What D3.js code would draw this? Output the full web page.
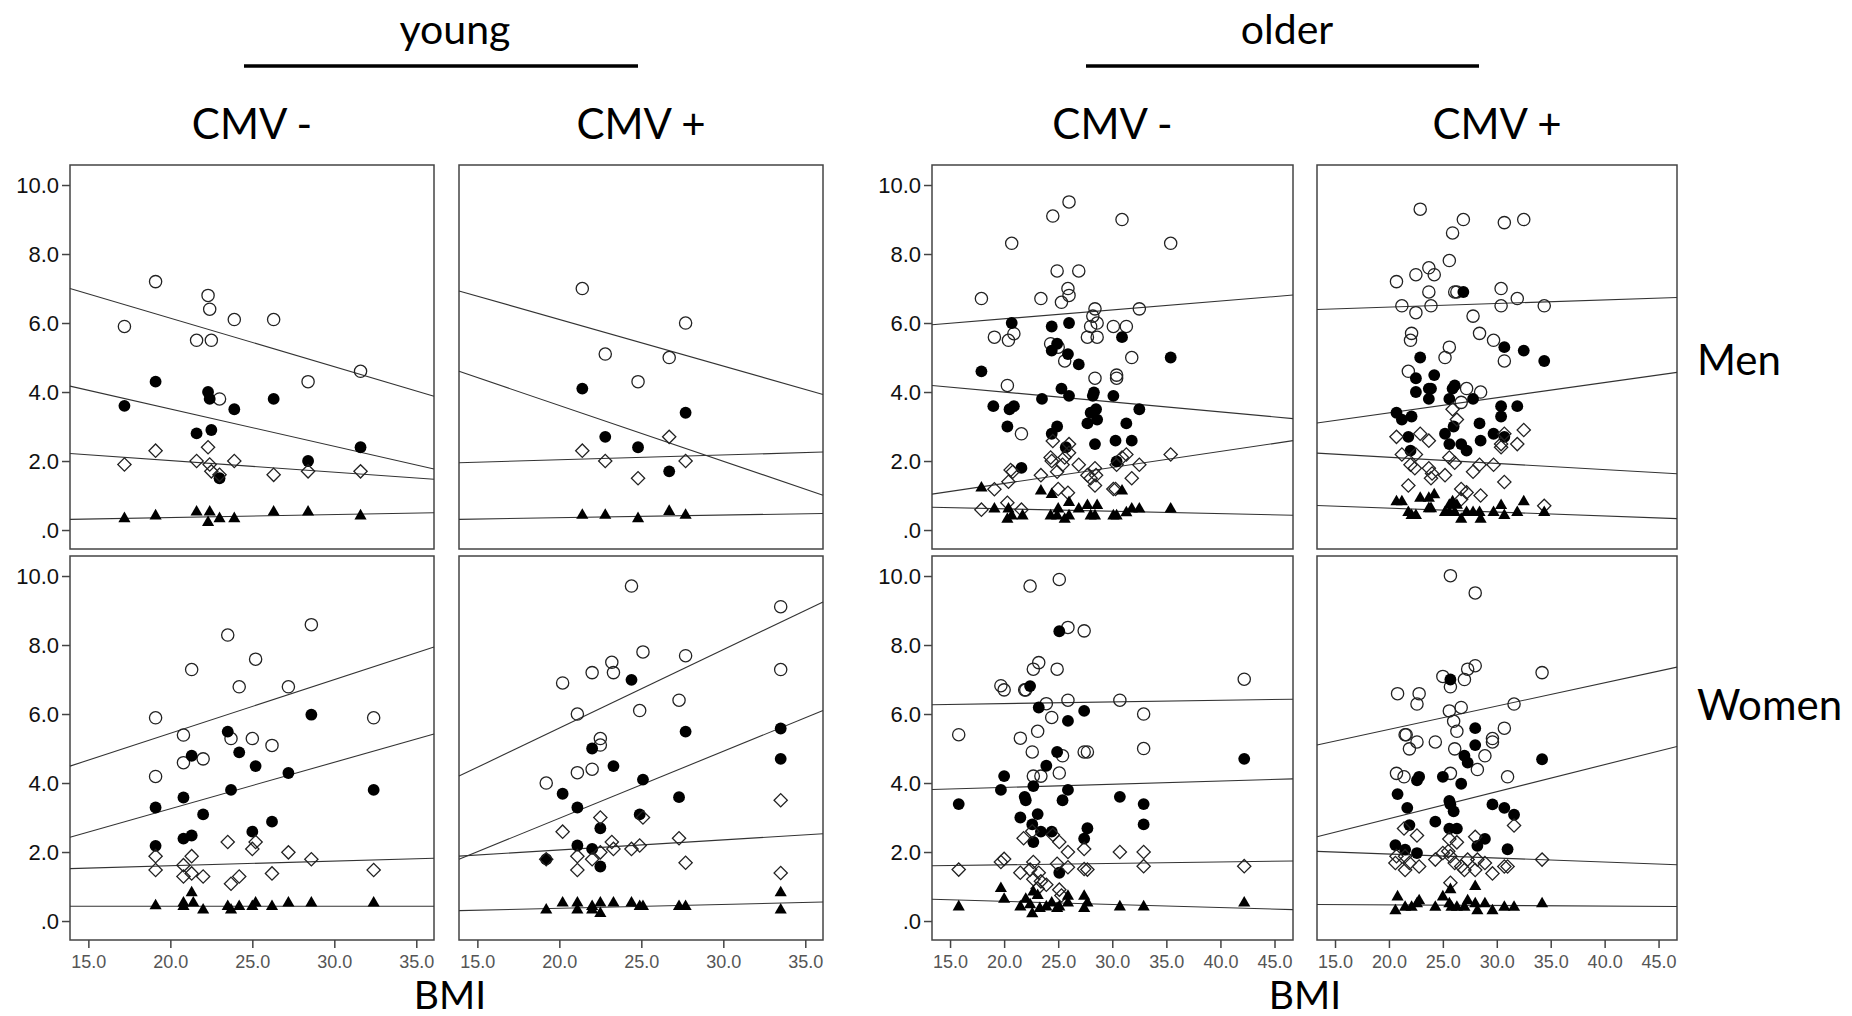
<!DOCTYPE html>
<html>
<head>
<meta charset="utf-8">
<script src="https://cdn.jsdelivr.net/npm/d3@7"></script>
<style>
  body { margin: 0; background: #fff; }
  svg text { fill: #000; }
</style>
</head>
<body>
<div id="chart"></div>
<script>
// tick labels and headers
var yTicks = [0, 2, 4, 6, 8, 10]
var xTicksYoung = [15, 20, 25, 30, 35]
var xTicksOlder = [15, 20, 25, 30, 35, 40, 45]
var ageLabels = ["young", "older"]
var cmvLabels = ["CMV -", "CMV +", "CMV -", "CMV +"]
var sexLabels = ["Men", "Women"]

// every panel: [open circles, filled circles, open diamonds, filled triangles], points are [BMI, value]
var youngNegMen = [
  [[17.2,5.9],[19.1,7.2],[22.3,6.8],[22.4,6.4],[21.6,5.5],[22.5,5.5],[23.9,6.1],[26.3,6.1],[23.0,3.8],[28.4,4.3],[31.6,4.6]],
  [[17.2,3.6],[19.1,4.3],[22.3,4.0],[22.4,3.8],[23.9,3.5],[26.3,3.8],[21.6,2.8],[22.5,2.9],[23.0,1.5],[28.4,2.0],[31.6,2.4]],
  [[17.2,1.9],[19.1,2.3],[21.6,2.0],[22.3,2.4],[22.4,1.9],[22.5,1.7],[23.0,1.6],[23.9,2.0],[26.3,1.6],[28.4,1.7],[31.6,1.7]],
  [[17.2,0.33],[19.1,0.41],[21.6,0.52],[22.4,0.52],[22.3,0.22],[23.0,0.33],[23.9,0.33],[26.3,0.52],[28.4,0.52],[31.6,0.41]]
]
var youngPosMen = [
  [[21.4,7.0],[27.7,6.0],[22.8,5.1],[26.7,5.0],[24.8,4.3]],
  [[21.4,4.1],[27.7,3.4],[22.8,2.7],[24.8,2.4],[26.7,1.7]],
  [[21.4,2.3],[22.8,2.0],[26.7,2.7],[27.7,2.0],[24.8,1.5]],
  [[21.4,0.43],[22.8,0.43],[24.8,0.33],[26.7,0.54],[27.7,0.43]]
]
var olderNegMen = [
  [[26.0,9.51],[24.5,9.1],[30.9,9.0],[20.7,8.31],[35.4,8.31],[24.9,7.51],[26.9,7.51],[17.9,6.71],[23.4,6.71],[25.9,7.0],
   [26.0,6.8],[25.3,6.6],[28.4,6.41],[32.5,6.41],[28.2,6.2],[28.0,5.9],[28.6,6.0],[30.1,5.9],[31.3,5.9],[19.1,5.59],
   [20.9,5.69],[20.4,5.5],[24.3,5.4],[25.0,5.3],[27.7,5.59],[28.6,5.59],[31.8,5.0],[25.6,4.9],[20.3,4.19],[28.4,4.4],
   [30.4,4.49],[30.4,4.4],[21.6,2.79]],
  [[20.7,6.0],[24.4,5.9],[26.0,6.0],[30.9,5.59],[35.4,5.0],[17.9,4.6],[24.4,5.2],[24.9,5.4],[25.9,5.1],[26.9,4.8],
   [25.3,4.1],[26.0,3.89],[23.5,3.8],[28.3,3.99],[28.2,3.89],[30.1,3.89],[19.0,3.59],[20.5,3.5],[20.9,3.59],[32.5,3.5],
   [28.0,3.4],[28.5,3.5],[28.6,3.2],[27.7,3.09],[31.3,3.09],[20.3,3.0],[24.9,3.0],[24.4,2.79],[25.7,2.4],[28.4,2.49],
   [30.3,2.59],[31.8,2.59],[30.4,1.99],[21.6,1.8]],
  [[17.9,0.59],[19.1,1.18],[20.3,0.79],[20.4,1.4],[20.8,1.69],[20.6,1.74],[21.6,0.59],[23.4,1.59],[24.5,2.58],[26.0,2.49],
   [24.3,2.1],[24.4,2.0],[24.9,1.69],[25.0,1.19],[25.6,2.1],[25.9,1.08],[26.0,2.24],[25.4,1.89],[26.9,1.89],[27.7,1.59],
   [28.0,1.5],[28.4,1.79],[28.5,1.59],[28.4,1.29],[30.1,1.19],[30.3,1.19],[30.4,1.89],[31.3,2.19],[30.9,2.1],[32.5,1.89],
   [31.8,1.5],[35.4,2.19]],
  [[17.9,1.22],[19.1,0.61],[20.3,0.31],[20.4,0.61],[20.7,0.41],[21.7,0.41],[23.4,1.13],[24.4,1.03],[24.3,0.41],[25.0,0.61],
   [24.9,0.41],[25.6,0.31],[26.0,0.8],[26.0,0.41],[26.9,0.61],[27.7,0.71],[28.0,0.41],[28.4,0.41],[28.6,0.71],[30.1,0.41],
   [30.4,0.41],[30.9,1.13],[31.3,0.5],[31.8,0.61],[32.5,0.61],[35.4,0.61]]
]
var olderPosMen = [
  [[22.9,9.3],[26.9,9.0],[30.7,8.91],[32.5,9.0],[25.9,8.61],[25.6,7.81],[23.7,7.6],[22.5,7.4],[24.2,7.4],[20.7,7.2],
   [23.7,6.9],[26.1,6.9],[26.3,6.9],[30.4,7.0],[31.9,6.71],[21.2,6.5],[23.9,6.5],[30.4,6.5],[34.4,6.5],[22.5,6.3],
   [27.8,6.2],[22.1,5.7],[22.0,5.5],[28.4,5.7],[29.7,5.5],[25.6,5.3],[25.2,5.0],[30.7,4.9],[21.8,4.6],[27.2,4.1],
   [28.5,4.0],[26.7,3.7]],
  [[26.9,6.9],[30.7,5.3],[32.5,5.2],[34.4,4.9],[22.9,5.0],[24.2,4.49],[22.5,4.4],[22.5,4.0],[23.7,4.1],[23.9,4.1],
   [26.1,4.19],[25.9,4.1],[23.7,3.8],[25.6,3.8],[27.8,3.8],[30.4,3.59],[31.9,3.59],[20.7,3.4],[22.1,3.29],[21.2,3.2],
   [30.4,3.29],[26.0,3.0],[28.4,3.09],[25.2,2.79],[29.7,2.79],[21.8,2.7],[30.7,2.7],[28.5,2.59],[25.6,2.49],[26.7,2.49],
   [27.2,2.3],[22.0,2.3]],
  [[25.9,3.5],[26.3,3.2],[20.7,2.7],[22.9,2.79],[23.7,2.59],[30.7,2.79],[32.5,2.9],[30.4,2.49],[30.4,2.4],[31.9,2.49],
   [21.2,2.19],[22.5,2.19],[22.0,1.89],[25.6,2.1],[26.1,1.95],[22.4,1.79],[23.7,1.79],[24.0,1.64],[23.9,1.5],[25.2,1.59],
   [27.8,1.69],[28.4,1.89],[29.7,1.89],[21.8,1.29],[30.7,1.39],[26.7,1.19],[27.2,1.09],[28.5,1.0],[26.7,0.89],[34.4,0.7]],
  [[20.7,0.82],[21.2,0.82],[22.9,0.92],[23.7,0.92],[24.2,1.02],[25.9,0.82],[25.6,0.72],[26.3,0.72],[32.5,0.82],[21.8,0.51],
   [22.1,0.42],[22.5,0.42],[23.7,0.62],[23.9,0.62],[25.2,0.51],[25.6,0.51],[26.1,0.51],[26.7,0.31],[27.2,0.51],[27.8,0.51],
   [28.4,0.51],[28.5,0.31],[29.7,0.51],[30.4,0.71],[30.7,0.42],[31.9,0.51],[34.4,0.51]]
]
var youngNegWomen = [
  [[23.5,8.29],[28.6,8.59],[25.2,7.59],[21.3,7.29],[24.2,6.79],[27.2,6.79],[19.1,5.89],[32.4,5.89],[20.8,5.39],[23.7,5.29],
   [25.0,5.29],[26.2,5.09],[20.8,4.59],[22.0,4.7],[19.1,4.19]],
  [[28.6,5.98],[23.5,5.49],[24.2,4.89],[21.3,4.79],[25.2,4.49],[27.2,4.29],[20.8,3.58],[23.7,3.8],[32.4,3.8],[19.1,3.29],
   [22.0,3.09],[26.2,2.88],[25.0,2.59],[20.8,2.39],[21.3,2.48],[19.1,2.18]],
  [[23.5,2.29],[25.2,2.29],[25.0,2.09],[27.2,1.99],[28.6,1.79],[19.1,1.88],[21.3,1.88],[20.8,1.62],[19.1,1.48],[32.4,1.48],
   [21.3,1.38],[26.2,1.38],[20.8,1.29],[22.0,1.29],[24.2,1.29],[23.7,1.08]],
  [[19.1,0.44],[20.8,0.52],[21.3,0.82],[21.4,0.52],[20.8,0.42],[22.0,0.32],[23.5,0.42],[23.7,0.32],[24.2,0.42],[25.0,0.42],
   [25.2,0.52],[26.2,0.42],[27.2,0.52],[28.6,0.52],[32.4,0.52]]
]
var youngPosWomen = [
  [[24.4,9.71],[33.5,9.11],[25.1,7.8],[27.7,7.69],[23.2,7.5],[22.0,7.2],[23.3,7.2],[20.2,6.9],[33.5,7.29],[27.3,6.4],
   [24.9,6.1],[21.1,6.0],[22.5,5.29],[22.5,5.1],[21.1,4.3],[22.0,4.4],[19.2,4.0]],
  [[24.4,6.99],[27.7,5.49],[33.5,5.58],[22.0,5.0],[33.5,4.7],[23.3,4.49],[25.1,4.1],[20.2,3.69],[27.3,3.59],[21.1,3.29],
   [24.9,3.09],[22.5,2.69],[21.1,2.19],[22.0,2.09],[19.2,1.79],[22.5,1.58]],
  [[33.5,3.5],[22.5,3.0],[25.1,3.0],[20.2,2.59],[27.3,2.4],[23.2,2.29],[24.9,2.19],[23.3,2.09],[24.4,2.09],[22.5,1.99],
   [21.1,1.88],[22.0,1.79],[19.2,1.79],[27.7,1.69],[21.1,1.48],[33.5,1.39]],
  [[19.2,0.32],[20.2,0.52],[21.1,0.52],[21.1,0.32],[22.0,0.42],[22.0,0.32],[22.5,0.52],[22.5,0.22],[23.3,0.52],[24.4,0.52],
   [24.9,0.42],[25.1,0.42],[27.3,0.42],[27.7,0.42],[33.5,0.82],[33.5,0.32]]
]
var olderNegWomen = [
  [[25.1,9.9],[22.4,9.71],[25.9,8.51],[27.4,8.41],[23.2,7.49],[22.7,7.3],[24.9,7.3],[42.2,7.01],[19.7,6.82],[20.0,6.7],
   [21.9,6.7],[22.0,6.7],[25.9,6.4],[30.7,6.4],[23.9,6.3],[24.4,5.9],[32.9,6.0],[15.8,5.4],[23.1,5.5],[21.5,5.3],
   [32.9,5.0],[22.6,4.9],[25.4,4.79],[27.4,4.9],[27.7,4.9],[25.1,4.29],[22.7,4.2],[23.4,4.2]],
  [[25.1,8.4],[22.4,6.81],[23.2,6.19],[27.4,6.09],[25.9,5.8],[24.9,4.9],[42.2,4.7],[23.9,4.5],[20.0,4.2],[19.7,3.8],
   [22.7,3.91],[25.9,3.8],[21.9,3.6],[22.0,3.5],[25.4,3.5],[30.7,3.6],[32.9,3.39],[15.8,3.39],[21.5,3.0],[23.1,3.1],
   [22.6,2.8],[32.9,2.8],[27.7,2.69],[23.4,2.59],[24.4,2.59],[22.7,2.29],[27.4,2.39],[25.1,1.4]],
  [[21.8,2.4],[22.6,2.6],[24.5,2.5],[25.1,2.29],[25.9,2.0],[27.4,2.09],[30.7,2.0],[32.9,2.0],[19.7,1.71],[20.0,1.8],
   [15.8,1.49],[24.9,1.66],[25.9,1.56],[27.4,1.51],[27.7,1.49],[32.9,1.59],[42.2,1.59],[22.7,1.71],[21.5,1.4],[22.4,1.49],
   [23.2,1.4],[22.7,1.21],[23.4,1.15],[23.9,1.05],[23.1,0.94],[25.1,0.91],[25.3,0.74]],
  [[19.7,0.94],[20.0,0.63],[15.8,0.41],[21.5,0.41],[22.0,0.63],[22.4,0.47],[22.6,0.21],[22.7,0.84],[23.1,0.74],[23.3,0.36],
   [23.9,0.41],[24.4,0.52],[24.9,0.36],[25.1,0.41],[25.9,0.72],[25.9,0.52],[27.4,0.72],[27.4,0.36],[27.7,0.52],[30.7,0.41],
   [32.9,0.41],[42.2,0.52]]
]
var olderPosWomen = [
  [[25.7,10.01],[28.0,9.51],[28.0,7.4],[27.3,7.3],[34.2,7.2],[25.0,7.09],[25.7,6.79],[27.0,7.0],[20.8,6.59],[22.8,6.59],
   [22.6,6.29],[31.6,6.29],[26.7,6.19],[25.6,6.09],[26.0,5.79],[26.3,5.5],[30.7,5.59],[21.5,5.4],[21.6,5.4],[22.6,5.19],
   [24.3,5.19],[29.6,5.29],[29.6,5.19],[21.9,4.99],[26.1,4.99],[28.9,4.79],[20.7,4.28],[21.4,4.18],[25.7,4.28],[28.2,4.39],
   [31.0,4.18]],
  [[25.7,7.0],[28.0,5.59],[28.0,5.1],[34.2,4.69],[27.0,4.79],[27.3,4.59],[22.8,4.18],[22.6,4.08],[25.0,4.18],[26.7,3.98],
   [20.8,3.68],[25.6,3.48],[25.7,3.38],[26.0,3.18],[29.6,3.38],[30.7,3.28],[31.6,3.08],[21.7,3.28],[21.9,2.78],[24.3,2.88],
   [25.6,2.68],[26.3,2.68],[28.9,2.38],[28.2,2.18],[20.6,2.2],[21.5,2.07],[22.6,1.97],[31.0,2.08]],
  [[31.6,2.77],[21.4,2.68],[22.6,2.48],[25.6,2.38],[26.3,2.28],[28.0,2.44],[20.7,1.88],[21.5,1.88],[24.3,1.78],[25.0,1.97],
   [25.5,2.02],[25.7,1.88],[27.3,1.78],[28.2,1.78],[34.2,1.78],[20.6,1.68],[21.9,1.68],[22.8,1.58],[26.1,1.68],[26.7,1.58],
   [28.9,1.68],[30.7,1.58],[31.0,1.58],[21.5,1.48],[27.0,1.48],[28.0,1.48],[29.6,1.38],[25.7,1.11]],
  [[20.8,0.7],[22.8,0.59],[25.0,0.7],[25.7,0.91],[28.0,1.0],[27.3,0.59],[20.6,0.3],[21.5,0.4],[22.1,0.4],[22.6,0.5],
   [24.3,0.4],[25.6,0.5],[25.8,0.4],[26.3,0.4],[27.0,0.4],[28.0,0.5],[28.2,0.3],[28.9,0.5],[29.6,0.3],[30.7,0.4],
   [31.6,0.4],[34.2,0.5]]
]

// fitted lines: value at the left and at the right end of the BMI axis, same series order
var youngNegMenFit = [[7.00,3.88],[4.17,1.77],[2.22,1.47],[0.31,0.50]]
var youngPosMenFit = [[6.93,3.93],[4.60,1.01],[1.95,2.26],[0.31,0.48]]
var olderNegMenFit = [[5.95,6.81],[4.19,3.23],[1.04,2.59],[0.66,0.43]]
var olderPosMenFit = [[6.39,6.74],[3.10,4.57],[2.23,1.63],[0.71,0.33]]
var youngNegWomenFit = [[4.49,7.94],[2.43,5.42],[1.52,1.82],[0.43,0.43]]
var youngPosWomenFit = [[4.20,9.25],[1.79,6.10],[1.88,2.53],[0.30,0.55]]
var olderNegWomenFit = [[6.27,6.43],[3.81,4.12],[1.60,1.74],[0.63,0.33]]
var olderPosWomenFit = [[5.10,7.36],[2.44,5.06],[2.02,1.63],[0.48,0.42]]

var width = 1852, height = 1016
var colLeft = [70, 459, 932, 1317]
var colWidth = [364, 364, 361, 360]
var rowTop = [165, 556]
var panelH = 384
var youngDomain = [13.88, 36.08], olderDomain = [13.33, 46.71]

var panels = [
  { data: youngNegMen, fit: youngNegMenFit, col: 0, row: 0 },
  { data: youngPosMen, fit: youngPosMenFit, col: 1, row: 0 },
  { data: olderNegMen, fit: olderNegMenFit, col: 2, row: 0 },
  { data: olderPosMen, fit: olderPosMenFit, col: 3, row: 0 },
  { data: youngNegWomen, fit: youngNegWomenFit, col: 0, row: 1 },
  { data: youngPosWomen, fit: youngPosWomenFit, col: 1, row: 1 },
  { data: olderNegWomen, fit: olderNegWomenFit, col: 2, row: 1 },
  { data: olderPosWomen, fit: olderPosWomenFit, col: 3, row: 1 }
]

var svg = d3.select("#chart")
  .append("svg")
  .attr("width", width)
  .attr("height", height)
  .style("font-family", "Lato, 'Open Sans', sans-serif")

// headers
var ageX = [455, 1287]
var ageLine = [[244, 638], [1086, 1479]]
ageLabels.forEach(function (t, i) {
  svg.append("text").attr("x", ageX[i]).attr("y", 44)
    .attr("text-anchor", "middle").style("font-size", "41px").text(t)
  svg.append("line")
    .attr("x1", ageLine[i][0]).attr("x2", ageLine[i][1])
    .attr("y1", 66).attr("y2", 66)
    .attr("stroke", "#000").attr("stroke-width", 3.5)
})
cmvLabels.forEach(function (t, i) {
  svg.append("text").attr("x", colLeft[i] + colWidth[i] / 2).attr("y", 139)
    .attr("text-anchor", "middle").style("font-size", "42px").text(t)
})
var sexY = [375, 720]
sexLabels.forEach(function (t, i) {
  svg.append("text").attr("x", 1697).attr("y", sexY[i])
    .style("font-size", "42px").text(t)
})
var bmiX = [450, 1305]
bmiX.forEach(function (bx) {
  svg.append("text").attr("x", bx).attr("y", 1009)
    .attr("text-anchor", "middle").style("font-size", "39px").text("BMI")
})

// marker shapes: open circle, filled circle, open diamond, filled triangle
var shapes = [
  { sym: d3.symbolCircle, size: 118, fill: "none", rot: 0 },
  { sym: d3.symbolCircle, size: 110, fill: "#000", rot: 0 },
  { sym: d3.symbolSquare, size: 88, fill: "none", rot: 45 },
  { sym: d3.symbolTriangle, size: 64, fill: "#000", rot: 0 }
]

panels.forEach(function (p) {
  var w = colWidth[p.col]
  var young = p.col < 2
  var x = d3.scaleLinear().domain(young ? youngDomain : olderDomain).range([0, w])
  var y = d3.scaleLinear().domain([-0.55, 10.58]).range([panelH, 0])

  var g = svg.append("g")
    .attr("transform", "translate(" + colLeft[p.col] + "," + rowTop[p.row] + ")")

  g.append("rect")
    .attr("width", w).attr("height", panelH)
    .attr("fill", "none").attr("stroke", "#444").attr("stroke-width", 1.5)

  // fit lines
  var dom = x.domain()
  g.selectAll(".fit")
    .data(p.fit)
    .enter()
    .append("line")
    .attr("x1", x(dom[0])).attr("x2", x(dom[1]))
    .attr("y1", function (d) { return y(d[0]) })
    .attr("y2", function (d) { return y(d[1]) })
    .attr("stroke", "#333").attr("stroke-width", 1.1)

  // points
  p.data.forEach(function (series, si) {
    var s = shapes[si]
    g.selectAll(".pt" + si)
      .data(series)
      .enter()
      .append("path")
      .attr("d", d3.symbol().type(s.sym).size(s.size))
      .attr("transform", function (d) {
        return "translate(" + x(d[0]) + "," + y(d[1]) + ") rotate(" + s.rot + ")"
      })
      .attr("fill", s.fill)
      .attr("stroke", s.fill === "none" ? "#222" : "none")
      .attr("stroke-width", 1.3)
  })

  // y axis on the left panel of each age group
  if (p.col === 0 || p.col === 2) {
    var ya = g.append("g")
      .call(d3.axisLeft(y).tickValues(yTicks).tickSize(8).tickPadding(3)
        .tickFormat(function (d) { return d === 0 ? ".0" : d.toFixed(1) }))
    ya.select(".domain").remove()
    ya.selectAll(".tick line").attr("stroke", "#444").attr("stroke-width", 1.5)
    ya.selectAll(".tick text")
      .style("font-family", "'Liberation Sans', Arial, sans-serif")
      .style("font-size", "22px").style("fill", "#111")
  }

  // x axis on the bottom row
  if (p.row === 1) {
    var xa = g.append("g")
      .attr("transform", "translate(0," + panelH + ")")
      .call(d3.axisBottom(x).tickValues(young ? xTicksYoung : xTicksOlder)
        .tickSize(8).tickPadding(7).tickFormat(d3.format(".1f")))
    xa.select(".domain").remove()
    xa.selectAll(".tick line").attr("stroke", "#444").attr("stroke-width", 1.5)
    xa.selectAll(".tick text")
      .style("font-family", "'Liberation Sans', Arial, sans-serif")
      .style("font-size", "18px").style("fill", "#555")
  }
})
</script>
</body>
</html>
